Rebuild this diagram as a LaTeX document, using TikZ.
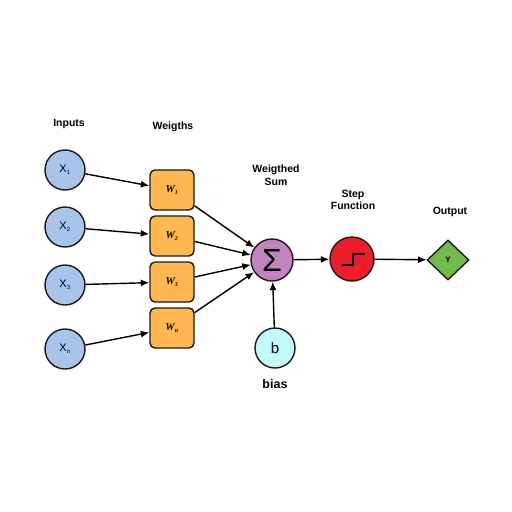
\documentclass[tikz,border=0pt]{standalone}
\usepackage{fontspec}
\setmainfont{Liberation Sans}
\newfontfamily\wfont{Liberation Serif}
\usetikzlibrary{shapes.geometric,arrows.meta}
\definecolor{inblue}{HTML}{A9C4EB}
\definecolor{worange}{HTML}{FFB84F}
\definecolor{sumpurple}{HTML}{C283BE}
\definecolor{stepred}{HTML}{EE1D2B}
\definecolor{outgreen}{HTML}{72BB4A}
\definecolor{biascyan}{HTML}{C0FAFA}
\definecolor{edge}{HTML}{1A1A1A}
\tikzset{
  inp/.style={circle,draw=edge,line width=1.4pt,fill=inblue,minimum size=40pt,inner sep=0pt,font=\fontsize{11}{11}\selectfont},
  wbox/.style={rectangle,rounded corners=5pt,draw=edge,line width=1.4pt,fill=worange,minimum width=44pt,minimum height=40pt,inner sep=0pt,font=\wfont\bfseries\itshape\fontsize{10.5}{10.5}\selectfont},
  sumnode/.style={circle,draw=edge,line width=1.4pt,fill=sumpurple,minimum size=42pt,inner sep=0pt},
  stepnode/.style={circle,draw=edge,line width=1.4pt,fill=stepred,minimum size=44pt,inner sep=0pt},
  outnode/.style={diamond,draw=edge,line width=1.4pt,fill=outgreen,minimum width=42pt,minimum height=40pt,inner sep=0pt,font=\bfseries\fontsize{8}{8}\selectfont},
  biasnode/.style={circle,draw=edge,line width=1.4pt,fill=biascyan,minimum size=40pt,inner sep=0pt,font=\fontsize{15}{15}\selectfont},
  lbl/.style={font=\bfseries\fontsize{10.5}{12.5}\selectfont,align=center},
  conn/.style={line width=1.4pt,-{Latex[length=8.5pt,width=7pt]}},
}
\newcommand{\smallsub}[1]{\textsubscript{\fontsize{6}{6}\selectfont #1}}
\begin{document}
\begin{tikzpicture}[x=1pt,y=-1pt]
\useasboundingbox[fill=white] (0,0) rectangle (512,512);
% inputs
\node[inp] (x1) at (65,170) {X\smallsub{1}};
\node[inp] (x2) at (65,227) {X\smallsub{2}};
\node[inp] (x3) at (65,285) {X\smallsub{3}};
\node[inp] (xn) at (65,349) {X\smallsub{n}};
% weights
\node[wbox] (w1) at (172,190) {W\smallsub{1}};
\node[wbox] (w2) at (172,236) {W\smallsub{2}};
\node[wbox] (w3) at (172,282) {W\smallsub{3}};
\node[wbox] (wn) at (172,328) {W\smallsub{n}};
% sum, step, output, bias
\node[sumnode] (sum) at (272,260) {\fontsize{32}{32}\selectfont Σ};
\node[stepnode] (step) at (352,259) {};
\node[outnode] (out) at (448,260) {Y};
\node[biasnode] (b) at (275,348) {b};
% step glyph
\coordinate (s1) at (342,265);
\coordinate (s2) at (353,265);
\coordinate (s3) at (353,254);
\coordinate (s4) at (365,254);
\draw[line width=1.8pt,black] (s1) -- (s2) -- (s3) -- (s4);
% labels
\node[lbl] (linp) at (69,124) {Inputs};
\node[lbl] (lw) at (173,127) {Weigths};
\node[lbl] (lsum) at (276,175) {Weigthed\\Sum};
\node[lbl] (lstep) at (353,200) {Step\\Function};
\node[lbl] (lout) at (450,212) {Output};
\node[font=\bfseries\fontsize{12.5}{12.5}\selectfont] (lbias) at (275,384) {bias};
% connectors
\draw[conn] (x1) -- (w1);
\draw[conn] (x2) -- (w2);
\draw[conn] (x3) -- (w3);
\draw[conn] (xn) -- (wn);
\draw[conn] (w1) -- (sum);
\draw[conn] (w2) -- (sum);
\draw[conn] (w3) -- (sum);
\draw[conn] (wn) -- (sum);
\draw[conn] (b) -- (sum);
\draw[conn] (sum) -- (step);
\draw[conn] (step) -- (out);
\end{tikzpicture}
\end{document}
